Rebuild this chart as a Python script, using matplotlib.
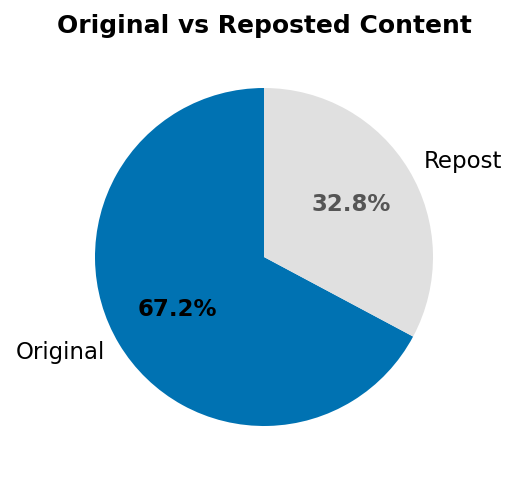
import matplotlib
matplotlib.use("Agg")
import matplotlib.pyplot as plt

labels = ["Original", "Repost"]
values = [67.2, 32.8]
colors = ["#0072B2", "#E0E0E0"]
pct_colors = ["black", "#555555"]

W, H = 517, 484
side = 422.5
cx, cy = 264, 257
fig = plt.figure(figsize=(W / 100, H / 100), dpi=100)
ax = fig.add_axes([(cx - side / 2) / W, (H - cy - side / 2) / H, side / W, side / H])
wedges, texts, autotexts = ax.pie(values, labels=labels, colors=colors, startangle=90,
                                  autopct="%1.1f%%", pctdistance=0.6, labeldistance=1.1,
                                  textprops={"fontsize": 16.5})
for t, c in zip(autotexts, pct_colors):
    t.set_color(c)
    t.set_fontweight("bold")
ax.set_aspect("equal")
ax.set_xlim(-1.25, 1.25)
ax.set_ylim(-1.25, 1.25)
fig.text(264 / W, 1 - 26 / H, "Original vs Reposted Content", fontsize=18, fontweight="bold",
         ha="center", va="center")
fig.savefig("out.png", dpi=100)
